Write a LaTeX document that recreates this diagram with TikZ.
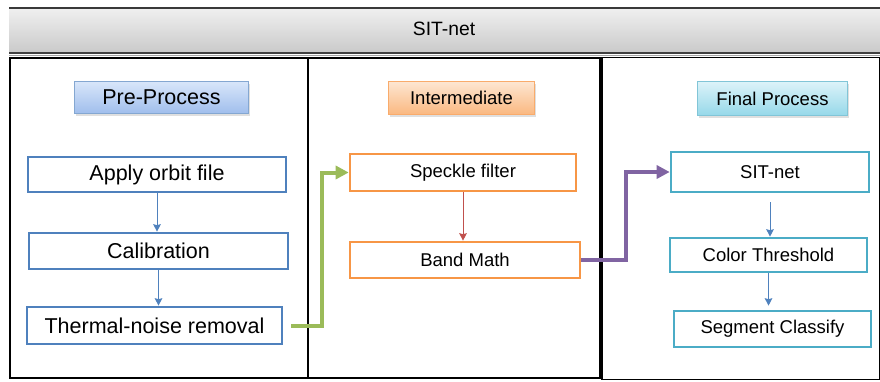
\documentclass[tikz,border=0pt]{standalone}
\usepackage{fontspec}
\setmainfont{Liberation Sans}
\usetikzlibrary{positioning, arrows.meta, shadows}

\definecolor{preblue}{RGB}{79,129,189}
\definecolor{midorange}{RGB}{247,150,70}
\definecolor{fincyan}{RGB}{75,172,198}
\definecolor{flowgreen}{RGB}{155,187,89}
\definecolor{flowpurple}{RGB}{128,100,162}
\definecolor{flowred}{RGB}{192,80,77}
\definecolor{pretop}{RGB}{216,230,250}
\definecolor{prebot}{RGB}{160,190,236}
\definecolor{midtop}{RGB}{253,230,210}
\definecolor{midbot}{RGB}{250,184,128}
\definecolor{fintop}{RGB}{220,243,249}
\definecolor{finbot}{RGB}{150,216,233}

\begin{document}
\begin{tikzpicture}[
    x=1pt, y=-1pt,
    >={Stealth[length=7.5pt, width=7.5pt, inset=1pt]},
    bigfont/.style  = {font=\fontsize{21.5}{24}\selectfont},
    smallfont/.style= {font=\fontsize{18.5}{21}\selectfont},
    stepbox/.style  = {rectangle, line width=2.6pt, fill=white, inner sep=0pt},
    prebox/.style   = {stepbox, draw=preblue, bigfont},
    midbox/.style   = {stepbox, draw=midorange, smallfont},
    finbox/.style   = {stepbox, draw=fincyan, smallfont},
    header/.style   = {rectangle, line width=1pt, inner sep=0pt,
                       drop shadow={opacity=0.25, shadow xshift=1.5pt, shadow yshift=-2pt}},
    flow/.style     = {line width=4pt, -{Triangle[length=13pt, width=13pt]}},
]

\useasboundingbox (0,0) rectangle (880,381);

% title bar
\shade[top color=gray!12, bottom color=gray!42] (9,8) rectangle (880,53);
\draw[gray!45!black, line width=1.5pt] (9,8) -- (880,8);
\draw[gray!50!black, line width=1.5pt] (9,53) -- (880,53);
\draw[gray!70, line width=1pt] (9,55.5) -- (880,55.5);
\node[font=\fontsize{19.3}{22}\selectfont] (title) at (444,29) {SIT-net};

% column frames
\draw[line width=2.6pt] (10,58) rectangle (308,378);
\draw[line width=2pt] (308,58) rectangle (600,378);
\draw[line width=3.2pt] (601,57) -- (601,379);
\draw[line width=1pt] (601,57) -- (879,57) -- (879,379) -- (601,379);

% column headers
\node[header, draw=preblue!70, top color=pretop, bottom color=prebot,
      minimum width=174pt, minimum height=32pt, bigfont] (prehead) at (161.5,97.5) {Pre-Process};
\node[header, draw=midorange!80, top color=midtop, bottom color=midbot,
      minimum width=146pt, minimum height=33pt, smallfont] (midhead) at (461.5,98) {Intermediate};
\node[header, draw=fincyan!70, top color=fintop, bottom color=finbot,
      minimum width=150pt, minimum height=34pt, smallfont] (finhead) at (772.5,98.5) {Final Process};

% pre-process steps
\node[prebox, minimum width=258pt, minimum height=35pt] (orbit)   at (157,174.5) {Apply orbit file};
\node[prebox, minimum width=259pt, minimum height=36pt] (calib)   at (158.5,251) {Calibration};
\node[prebox, minimum width=255pt, minimum height=37pt] (thermal) at (154.5,325.5) {Thermal-noise removal};

% intermediate steps
\node[midbox, minimum width=226pt, minimum height=37pt] (speckle) at (463,172.5) {Speckle filter};
\node[midbox, minimum width=230pt, minimum height=36pt] (band)    at (465,260) {Band Math};

% final steps
\node[finbox, minimum width=198pt, minimum height=40pt] (sitnet)  at (770,172) {SIT-net};
\node[finbox, minimum width=197pt, minimum height=34pt] (color)   at (768.5,255) {Color Threshold};
\node[finbox, minimum width=197pt, minimum height=36pt] (segment) at (772.5,329) {Segment Classify};

% arrows inside columns
\draw[->, preblue, line width=1pt] (orbit.south) -- (orbit.south |- calib.north);
\draw[->, preblue, line width=1pt] (calib.south) -- (calib.south |- thermal.north);
\draw[->, flowred, line width=1pt] (speckle.south) -- (speckle.south |- band.north);
\draw[->, preblue, line width=1pt, shorten <=9pt] (sitnet.south) -- (sitnet.south |- color.north);
\draw[->, preblue, line width=1pt, shorten >=4pt] (color.south) -- (color.south |- segment.north);

% arrows between columns
\draw[flow, flowgreen] ([xshift=8pt]thermal.east) -- ++(31,0) |- (speckle.west);
\draw[flow, flowpurple] (band.east) -- ++(45,0) |- (sitnet.west);

\end{tikzpicture}
\end{document}
